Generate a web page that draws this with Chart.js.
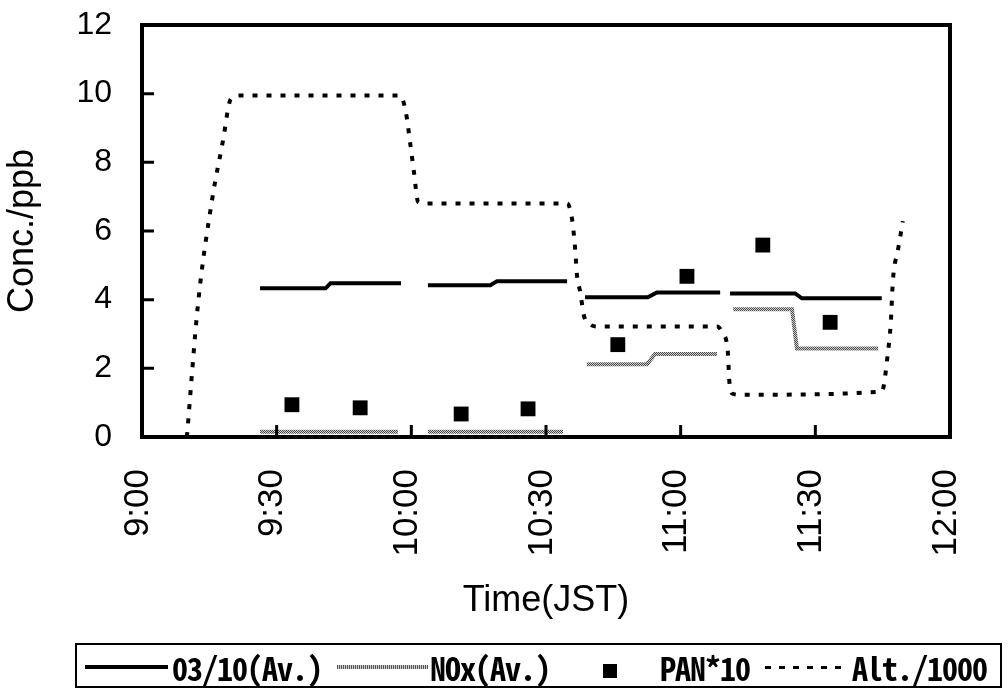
<!DOCTYPE html>
<html>
<head>
<meta charset="utf-8">
<script src="https://cdn.jsdelivr.net/npm/chart.js@4.4.1/dist/chart.umd.min.js"></script>
<style>
  html, body { margin: 0; padding: 0; background: #fff; }
  #wrap { position: relative; width: 1008px; height: 693px; overflow: hidden; }
  #chart { position: absolute; left: 0; top: 0; }
  #legendBox { position: absolute; left: 75px; top: 643px; width: 927px; height: 45px;
               border: 2px solid #000; box-sizing: border-box; }
  .lg { position: absolute; }
  .lg-text { position: absolute; top: 650px; height: 34px; line-height: 34px;
             font-family: "Noto Sans Mono CJK JP", "DejaVu Sans Mono", monospace;
             font-size: 32px; font-weight: bold; letter-spacing: -1px;
             color: #000; white-space: pre; }
</style>
</head>
<body>
<div id="wrap">
  <canvas id="chart" width="1008" height="693"></canvas>
  <div id="legendBox"></div>
  <div class="lg" style="left:85px; top:665px; width:83px; height:4px; background:#000"></div>
  <span class="lg-text" style="left:172px">03/10(Av.)</span>
  <div class="lg" style="left:337px; top:665px; width:91px; height:4px;
       background:repeating-linear-gradient(90deg, #555 0 1px, #ccc 1px 2px)"></div>
  <span class="lg-text" style="left:430px">NOx(Av.)</span>
  <div class="lg" style="left:603px; top:664px; width:14px; height:14px; background:#000"></div>
  <span class="lg-text" style="left:660px">PAN*10</span>
  <div class="lg" style="left:765px; top:666px; width:84px; height:3px;
       background:repeating-linear-gradient(90deg, #000 0 6px, transparent 6px 14px)"></div>
  <span class="lg-text" style="left:852px">Alt./1000</span>
</div>
<script>
// time axis: minutes after 9:00
const timeLabels = ["9:00", "9:30", "10:00", "10:30", "11:00", "11:30", "12:00"];

// O3 / 10 averages (null = gap between legs)
const o3Time  = [26.3, 40.9, 42.0, 57.7, 60.5, 63.7, 77.6, 79.1, 94.7, 96.5,
                 98.7, 112.7, 114.7, 128.8, 130.0, 131.0, 145.5, 147.0, 164.8];
const o3Value = [4.33, 4.33, 4.48, 4.48, null, 4.42, 4.42, 4.54, 4.54, null,
                 4.07, 4.07, 4.21, 4.21, null, 4.18, 4.18, 4.04, 4.04];

// NOx averages
const noxTime  = [26.3, 57.0, 60.0, 63.7, 93.8, 96.5, 99.1, 112.5, 114.3, 128.1,
                  130.0, 131.7, 144.8, 145.9, 164.0];
const noxValue = [0.15, 0.15, null, 0.15, 0.15, null, 2.12, 2.12, 2.42, 2.42,
                  null, 3.72, 3.72, 2.58, 2.58];

// PAN x 10 samples
const panTime  = [33.4, 48.6, 71.1, 86.0, 106.0, 121.4, 138.3, 153.3];
const panValue = [0.94, 0.85, 0.67, 0.82, 2.69, 4.68, 5.59, 3.34];

// flight altitude / 1000
const altTime  = [10.0, 12.5, 15.6, 18.0, 19.8, 22.0, 57.5, 58.8, 59.7, 60.6, 61.5, 63.0,
                  94.7, 95.8, 96.5, 96.9, 97.6, 98.5, 99.8, 101.5, 128.1, 129.4, 130.5,
                  130.8, 131.0, 131.6, 133.2, 164.8, 166.2, 166.8, 167.3, 168.4, 169.5];
const altValue = [0.0, 3.9, 6.9, 8.6, 9.85, 9.95, 9.95, 9.45, 8.6, 7.7, 6.85, 6.8,
                  6.8, 6.35, 5.47, 4.71, 4.24, 3.51, 3.28, 3.22, 3.22, 3.01, 2.49,
                  1.7, 1.43, 1.26, 1.23, 1.32, 2.49, 3.31, 4.59, 5.44, 6.29];

const zip = (xs, ys) => xs.map((x, i) => ({ x, y: ys[i] }));

// stippled grey for the NOx trace
function stipple() {
  const c = document.createElement("canvas");
  c.width = 2;
  c.height = 2;
  const g = c.getContext("2d");
  g.fillStyle = "#cfcfcf";
  g.fillRect(0, 0, 2, 2);
  g.fillStyle = "#4a4a4a";
  g.fillRect(0, 0, 1, 1);
  g.fillRect(1, 1, 1, 1);
  return g.createPattern(c, "repeat");
}

// box round the plot plus inward tick marks
const framePlugin = {
  id: "frame",
  afterDraw(chart) {
    const { ctx, chartArea: a, scales } = chart;
    ctx.save();
    ctx.strokeStyle = "#000";
    ctx.lineWidth = 4;
    ctx.strokeRect(a.left, a.top, a.right - a.left, a.bottom - a.top);
    ctx.lineWidth = 3;
    ctx.beginPath();
    scales.y.ticks.forEach((t) => {
      const y = scales.y.getPixelForValue(t.value);
      ctx.moveTo(a.left, y);
      ctx.lineTo(a.left + 12, y);
    });
    scales.x.ticks.forEach((t) => {
      const x = scales.x.getPixelForValue(t.value);
      ctx.moveTo(x, a.bottom);
      ctx.lineTo(x, a.bottom - 12);
    });
    ctx.stroke();
    ctx.restore();
  },
};

const font = "Liberation Sans, Arial, sans-serif";
const ctx = document.getElementById("chart").getContext("2d");

new Chart(ctx, {
  type: "line",
  data: {
    datasets: [
      {
        label: "03/10(Av.)",
        data: zip(o3Time, o3Value),
        borderColor: "#000",
        borderWidth: 4,
        pointRadius: 0,
        spanGaps: false,
        tension: 0,
      },
      {
        label: "NOx(Av.)",
        data: zip(noxTime, noxValue),
        borderColor: stipple(),
        borderWidth: 4,
        pointRadius: 0,
        spanGaps: false,
        tension: 0,
      },
      {
        label: "PAN*10",
        data: zip(panTime, panValue),
        showLine: false,
        pointStyle: "rect",
        pointRadius: 10.5,
        backgroundColor: "#000",
        borderColor: "#000",
        borderWidth: 0,
      },
      {
        label: "Alt./1000",
        data: zip(altTime, altValue),
        borderColor: "#000",
        borderWidth: 4,
        borderDash: [5, 9],
        borderCapStyle: "butt",
        pointRadius: 0,
        cubicInterpolationMode: "monotone",
      },
    ],
  },
  options: {
    responsive: false,
    animation: false,
    devicePixelRatio: 1,
    layout: { padding: { top: 25, right: 58, left: 0, bottom: 0 } },
    plugins: {
      legend: { display: false },
      tooltip: { enabled: false },
    },
    scales: {
      x: {
        type: "linear",
        min: 0,
        max: 180,
        grid: { display: false },
        border: { display: false },
        ticks: {
          stepSize: 30,
          autoSkip: false,
          minRotation: 90,
          maxRotation: 90,
          padding: 24,
          labelOffset: -4,
          color: "#000",
          font: { family: font, size: 35 },
          callback: (v) => timeLabels[v / 30],
        },
        title: {
          display: true,
          text: "Time(JST)",
          color: "#000",
          font: { family: font, size: 36 },
          padding: { top: 0, bottom: 70 },
        },
        afterFit: (scale) => {
          scale.height = 256;
          scale.paddingLeft = 0;
          scale.paddingRight = 0;
        },
      },
      y: {
        min: 0,
        max: 12,
        grid: { display: false },
        border: { display: false },
        ticks: {
          stepSize: 2,
          padding: 22,
          color: "#000",
          font: { family: font, size: 32 },
        },
        title: {
          display: true,
          text: "Conc./ppb",
          color: "#000",
          font: { family: font, size: 36 },
          padding: { top: 1, bottom: 0 },
        },
        afterFit: (scale) => {
          scale.width = 142;
          scale.paddingTop = 0;
          scale.paddingBottom = 0;
        },
      },
    },
  },
  plugins: [framePlugin],
});
</script>
</body>
</html>
